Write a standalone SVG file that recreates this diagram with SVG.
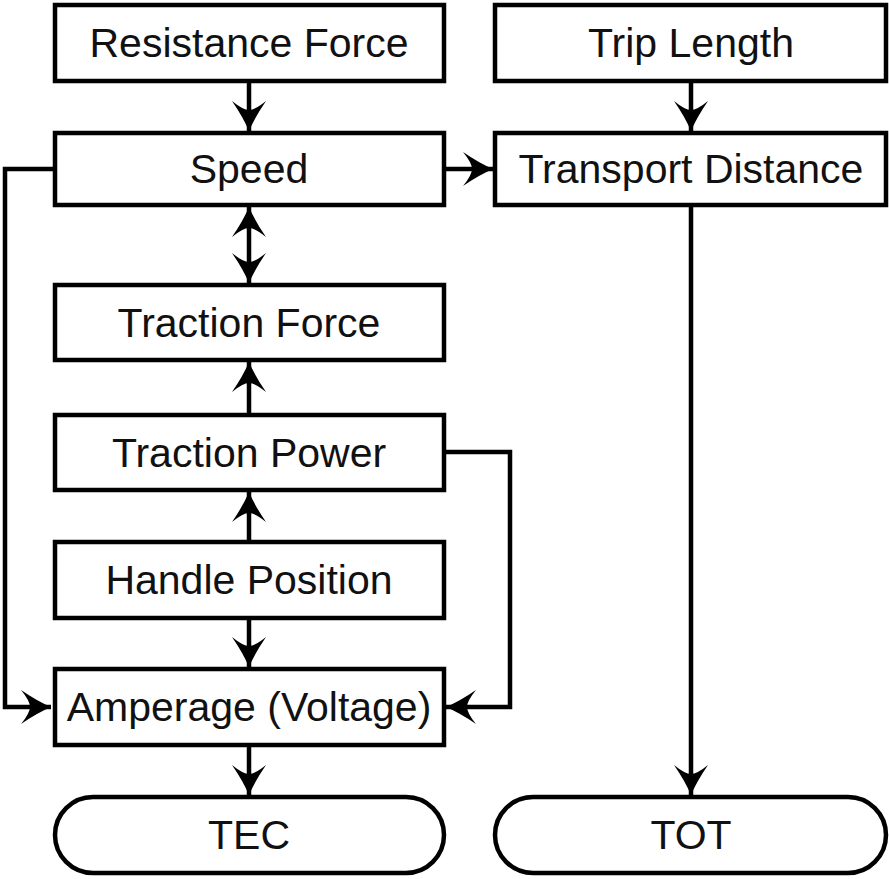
<svg xmlns="http://www.w3.org/2000/svg" width="889" height="879" viewBox="0 0 889 879">
<style>
.box{fill:#fff;stroke:#000;stroke-width:4.5}
.lbl{font-family:"Liberation Sans",Arial,sans-serif;font-size:41px;fill:#111;text-anchor:middle}
.con{fill:none;stroke:#000;stroke-width:4.5}
</style>
<defs>
<marker id="ah" markerUnits="userSpaceOnUse" markerWidth="40" markerHeight="40" viewBox="-32 -20 36 40" refX="0" refY="0" orient="auto-start-reverse">
<path d="M0,0 Q-14,-6 -30,-17 Q-21,-6 -21,0 Q-21,6 -30,17 Q-14,6 0,0 Z" fill="#000"/>
</marker>
</defs>
<rect width="889" height="879" fill="#fff"/>
<g id="connectors">
<line class="con" x1="249" y1="81" x2="249" y2="131" marker-end="url(#ah)"/>
<line class="con" x1="249" y1="207" x2="249" y2="283" marker-start="url(#ah)" marker-end="url(#ah)"/>
<line class="con" x1="249" y1="415" x2="249" y2="362" marker-end="url(#ah)"/>
<line class="con" x1="249" y1="542" x2="249" y2="492" marker-end="url(#ah)"/>
<line class="con" x1="249" y1="618" x2="249" y2="667" marker-end="url(#ah)"/>
<line class="con" x1="249" y1="745" x2="249" y2="795" marker-end="url(#ah)"/>
<line class="con" x1="444" y1="169" x2="493" y2="169" marker-end="url(#ah)"/>
<line class="con" x1="691" y1="81" x2="691" y2="131" marker-end="url(#ah)"/>
<line class="con" x1="691" y1="205" x2="691" y2="795" marker-end="url(#ah)"/>
<polyline class="con" points="53,169 5,169 5,707 51,707" marker-end="url(#ah)"/>
<polyline class="con" points="444,452 510,452 510,707 446,707" marker-end="url(#ah)"/>
</g>
<g id="resistance-force"><rect class="box" x="55" y="5" width="389" height="76"/><text class="lbl" x="249" y="57">Resistance Force</text></g>
<g id="trip-length"><rect class="box" x="495" y="5" width="391" height="76"/><text class="lbl" x="691" y="57">Trip Length</text></g>
<g id="speed"><rect class="box" x="55" y="133" width="389" height="72"/><text class="lbl" x="249" y="183">Speed</text></g>
<g id="transport-distance"><rect class="box" x="495" y="133" width="391" height="72"/><text class="lbl" x="691" y="183">Transport Distance</text></g>
<g id="traction-force"><rect class="box" x="55" y="285" width="389" height="75"/><text class="lbl" x="249" y="337">Traction Force</text></g>
<g id="traction-power"><rect class="box" x="55" y="415" width="389" height="75"/><text class="lbl" x="249" y="467">Traction Power</text></g>
<g id="handle-position"><rect class="box" x="55" y="542" width="389" height="76"/><text class="lbl" x="249" y="594">Handle Position</text></g>
<g id="amperage"><rect class="box" x="55" y="669" width="389" height="76"/><text class="lbl" x="249" y="721">Amperage (Voltage)</text></g>
<g id="tec"><rect class="box" x="55" y="797" width="389" height="76" rx="38" ry="38"/><text class="lbl" x="249" y="849">TEC</text></g>
<g id="tot"><rect class="box" x="495" y="797" width="391" height="76" rx="38" ry="38"/><text class="lbl" x="691" y="849">TOT</text></g>
</svg>
